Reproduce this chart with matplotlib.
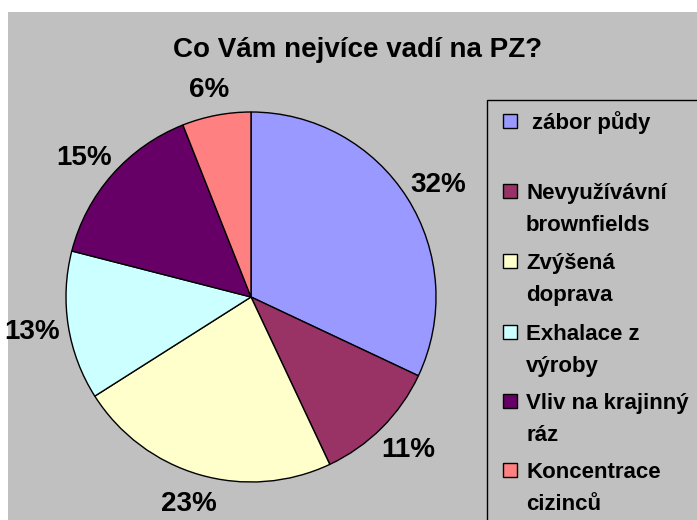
import matplotlib.pyplot as plt
from matplotlib.patches import Rectangle

plt.rcParams['font.family'] = ['Liberation Sans', 'DejaVu Sans']
plt.rcParams['font.weight'] = 'bold'

labels = ["zábor půdy", "Nevyužívávní\nbrownfields", "Zvýšená\ndoprava",
          "Exhalace z\nvýroby", "Vliv na krajinný\nráz", "Koncentrace\ncizinců"]
values = [32, 11, 23, 13, 15, 6]
colors = ["#9999FF", "#993366", "#FFFFCC", "#CCFFFF", "#660066", "#FF8080"]

W, H = 697, 520
fig = plt.figure(figsize=(W / 100, H / 100), dpi=100)
fig.patch.set_facecolor("white")

def fx(x):
    return x / W

def fy(y):
    return 1 - y / H

# grey chart area
fig.patches.append(Rectangle((fx(8), 0), 1 - fx(8), fy(12), transform=fig.transFigure,
                             facecolor="#C0C0C0", edgecolor="none", zorder=-2))

cx, cy, r = 251, 297, 185
ax = fig.add_axes([fx(cx - r), fy(cy + r), 2 * r / W, 2 * r / H])
ax.set_zorder(5)
ax.patch.set_visible(False)
wedges, texts, pcts = ax.pie(values, colors=colors, startangle=90, counterclock=False,
                             autopct="%.0f%%", pctdistance=1.2,
                             wedgeprops=dict(edgecolor="black", linewidth=1),
                             textprops=dict(fontsize=20, fontweight="bold", color="black"))
for t in pcts:
    x, y = t.get_position()
    t.set_position((x, y * 0.96 - 0.01))
ax.set_xlim(-1, 1)
ax.set_ylim(-1, 1)
ax.set_aspect("auto")
ax.axis("off")

fig.text(fx(358), fy(50), "Co Vám nejvíce vadí na PZ?", ha="center", va="center",
         fontsize=20, fontweight="bold")

# legend box
fig.patches.append(Rectangle((fx(487), -0.05), 1, fy(100) + 0.05, transform=fig.transFigure,
                             facecolor="#C0C0C0", edgecolor="black", linewidth=1, zorder=1))

sq_top = [114, 184, 254, 325, 394, 463]
for i, (lab, col, y) in enumerate(zip(labels, colors, sq_top)):
    fig.patches.append(Rectangle((fx(503), fy(y + 14)), 14 / W, 14 / H, transform=fig.transFigure,
                                 facecolor=col, edgecolor="black", linewidth=1, zorder=2))
    tx = 532 if i == 0 else 526
    for j, line in enumerate(lab.split("\n")):
        fig.text(fx(tx), fy(y + 15 + 32 * j), line, ha="left", va="baseline", fontsize=16,
                 fontweight="bold", zorder=3)

fig.savefig("out.png", dpi=100, facecolor=fig.get_facecolor())
